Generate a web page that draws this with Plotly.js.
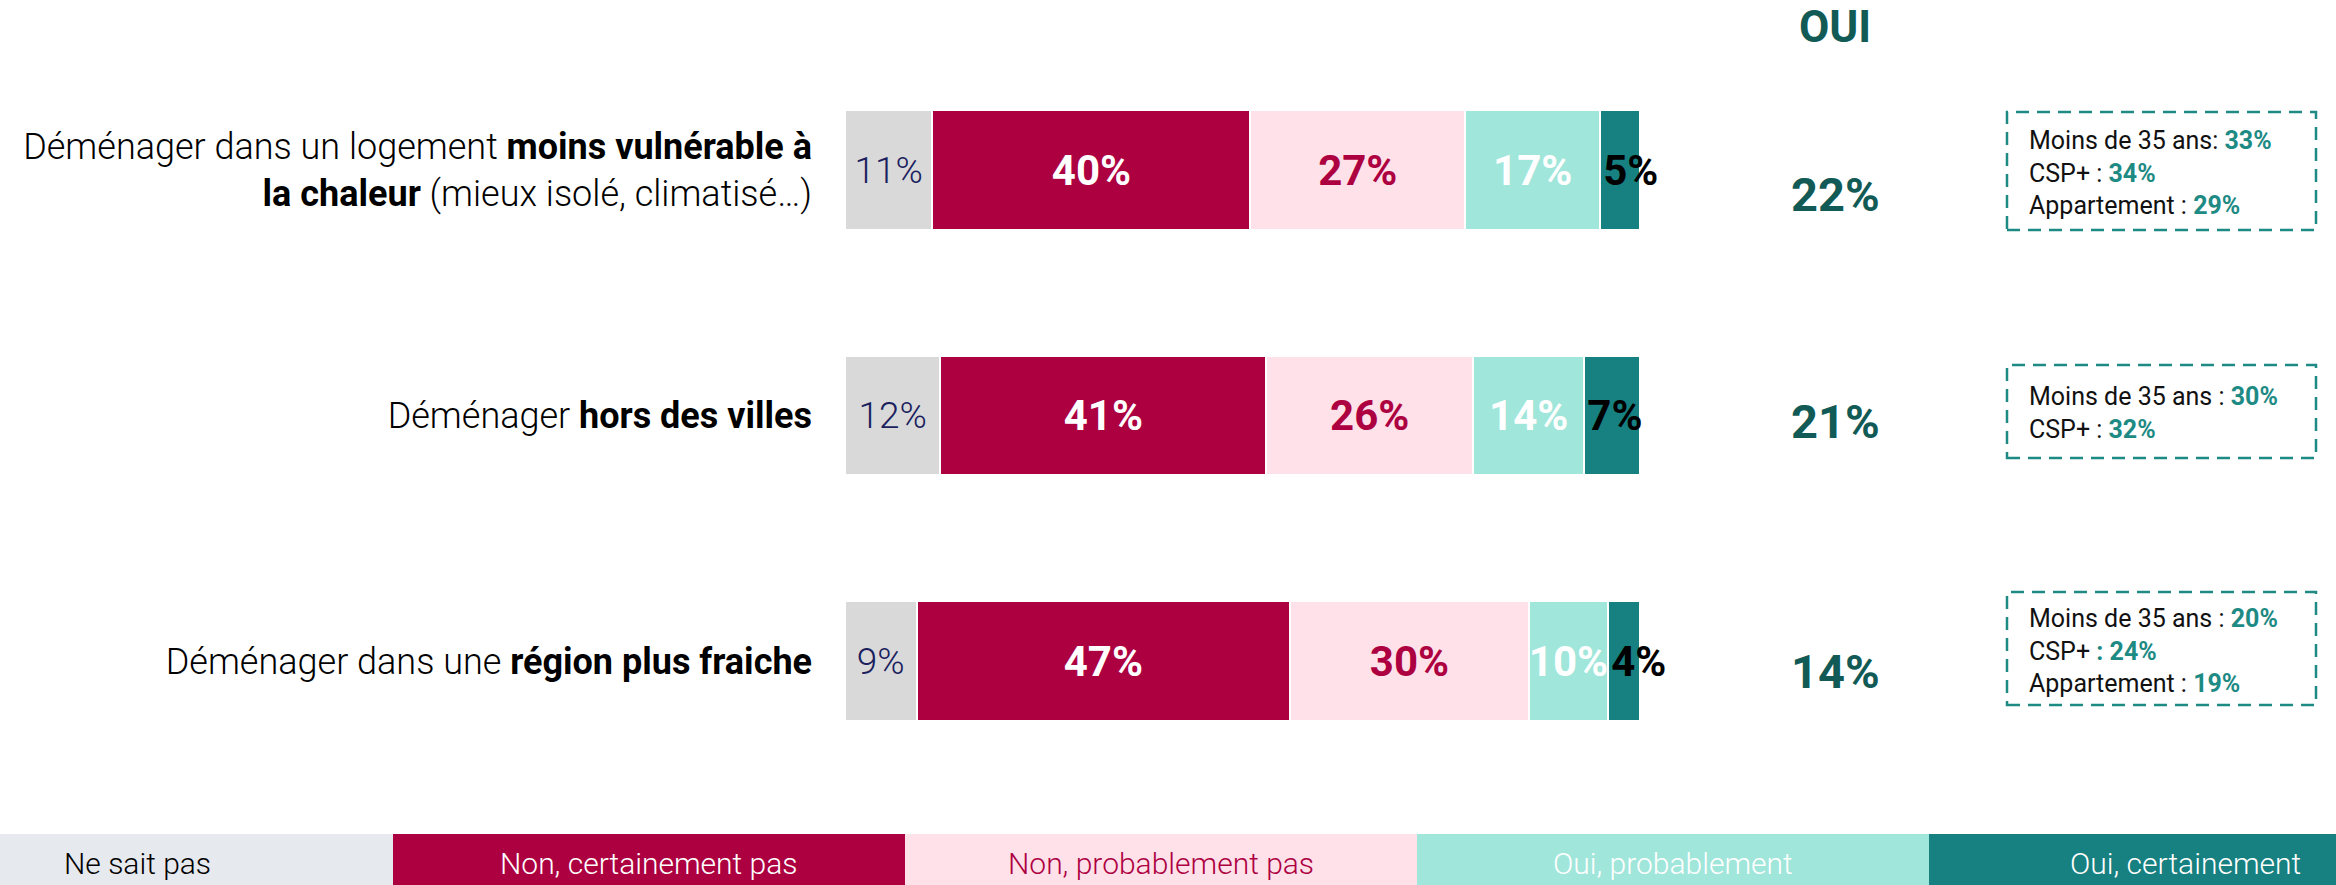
<!DOCTYPE html>
<html>
<head>
<meta charset="utf-8">
<script src="https://cdn.plot.ly/plotly-3.0.1.min.js"></script>
<style>
  html, body { margin: 0; padding: 0; background: #ffffff; }
  #chart { width: 2336px; height: 885px; }
</style>
</head>
<body>
<div id="chart"></div>
<script>
// ---------- DATA ----------
const categories = [
  "Déménager dans un logement <b>moins vulnérable à</b><br><b>la chaleur</b> (mieux isolé, climatisé…)",
  "Déménager <b>hors des villes</b>",
  "Déménager dans une <b>région plus fraiche</b>"
];
const seriesNames = ["Ne sait pas", "Non, certainement pas", "Non, probablement pas", "Oui, probablement", "Oui, certainement"];
const neSaitPas       = [11, 12, 9];
const nonCertainement = [40, 41, 47];
const nonProbablement = [27, 26, 30];
const ouiProbablement = [17, 14, 10];
const ouiCertainement = [5, 7, 4];
const ouiHeader = "OUI";
const subLabels = [
  ["Moins de 35 ans: ", "CSP+ : ", "Appartement : "],
  ["Moins de 35 ans : ", "CSP+ : "],
  ["Moins de 35 ans : ", "CSP+", "Appartement : "]
];
const subValues = [
  [33, 34, 29],
  [30, 32],
  [20, 24, 19]
];

// ---------- STYLE ----------
const W = 2336, H = 885;
const FONT = "Roboto, 'Open Sans', sans-serif";
const barColors   = ["#D9D9D9", "#AD0041", "#FFE1EA", "#A1E6DA", "#178080"];
const textColors  = ["#1B1F5E", "#FFFFFF", "#AD0041", "#FFFFFF", "#000000"];
const textWeights = [300, "bold", "bold", "bold", "bold"];
const textSizes   = [37, 42, 42, 42, 42];
const textAnchors = ["middle", "middle", "middle", "middle", "start"];
const legendBg    = ["#E6E9EE", "#AD0041", "#FFE1EA", "#A1E6DA", "#178080"];
const legendText  = ["#000000", "#FFFFFF", "#AD0041", "#FFFFFF", "#FFFFFF"];
const ouiColor = "#115A55";
const boxColor = "#1E8A84";

const px = v => v / W;          // x pixel -> paper
const py = v => 1 - v / H;      // y pixel (from top) -> paper

const allSeries = [neSaitPas, nonCertainement, nonProbablement, ouiProbablement, ouiCertainement];

const traces = allSeries.map((vals, i) => ({
  type: "bar",
  orientation: "h",
  name: seriesNames[i],
  x: vals,
  y: categories,
  marker: { color: barColors[i], line: { color: "#FFFFFF", width: 2 } },
  texttemplate: "%{x}%",
  textposition: "inside",
  insidetextanchor: textAnchors[i],
  textangle: 0,
  constraintext: "none",
  cliponaxis: false,
  insidetextfont: { family: FONT, size: textSizes[i], color: textColors[i], weight: textWeights[i] },
  hoverinfo: "skip",
  showlegend: false
}));

const annotations = [];
const shapes = [];

// OUI header
annotations.push({
  xref: "paper", yref: "paper", x: px(1835), y: py(27),
  text: "<b>" + ouiHeader + "</b>", showarrow: false,
  font: { family: FONT, size: 44, color: ouiColor },
  xanchor: "center", yanchor: "middle"
});

// OUI totals
const ouiShift = [-24, -6, -10];
categories.forEach((c, i) => {
  const tot = ouiProbablement[i] + ouiCertainement[i];
  annotations.push({
    xref: "paper", yref: "y", x: px(1835), y: c, yshift: ouiShift[i],
    text: "<b>" + tot + "%</b>", showarrow: false,
    font: { family: FONT, size: 47, color: ouiColor },
    xanchor: "center", yanchor: "middle"
  });
});

// dashed boxes with sub-group values
const boxes = [[112, 230], [365, 458], [592, 705]];
boxes.forEach((b, i) => {
  shapes.push({
    type: "rect", xref: "paper", yref: "paper",
    x0: px(2007), x1: px(2316), y0: py(b[1]), y1: py(b[0]),
    line: { color: boxColor, width: 2.5, dash: "13px,8px" },
    fillcolor: "rgba(0,0,0,0)"
  });
  const lines = subLabels[i].map((lab, j) => {
    const hasColon = lab.indexOf(":") >= 0;
    const val = (hasColon ? "" : " : ") + subValues[i][j] + "%";
    return lab + "<b><span style=\"color:" + boxColor + "\">" + val + "</span></b>";
  });
  annotations.push({
    xref: "paper", yref: "paper", x: px(2027), y: py((b[0] + b[1]) / 2 + 2),
    text: lines.join("<br>"), showarrow: false, align: "left",
    font: { family: FONT, size: 25, color: "#111111" },
    xanchor: "left", yanchor: "middle"
  });
});

// bottom legend bands
seriesNames.forEach((n, i) => {
  const x0 = -119 + 512 * i, x1 = x0 + 512;
  shapes.push({
    type: "rect", xref: "paper", yref: "paper",
    x0: px(x0), x1: px(x1), y0: py(900), y1: py(834),
    line: { width: 0 }, fillcolor: legendBg[i], layer: "below"
  });
  annotations.push({
    xref: "paper", yref: "paper", x: px((x0 + x1) / 2), y: py(863),
    text: n, showarrow: false, borderpad: 0,
    font: { family: FONT, size: 30, color: legendText[i], weight: 300 },
    xanchor: "center", yanchor: "middle"
  });
});

const layout = {
  width: W, height: H,
  margin: { l: 0, r: 0, t: 0, b: 0 },
  paper_bgcolor: "#FFFFFF", plot_bgcolor: "rgba(0,0,0,0)",
  barmode: "stack",
  bargap: 0.515,
  showlegend: false,
  xaxis: {
    domain: [px(845), px(1640)], range: [0, 100],
    visible: false, fixedrange: true
  },
  yaxis: {
    type: "category", categoryarray: categories,
    domain: [py(783.75), py(47.25)], range: [2.5, -0.5],
    showgrid: false, zeroline: false, showline: false, ticks: "",
    ticklabelstandoff: 32, automargin: false,
    tickfont: { family: FONT, size: 36, color: "#000000", weight: 300 },
    fixedrange: true
  },
  annotations: annotations,
  shapes: shapes,
  font: { family: FONT }
};

Plotly.newPlot("chart", traces, layout, { displayModeBar: false, staticPlot: true });
</script>
</body>
</html>
